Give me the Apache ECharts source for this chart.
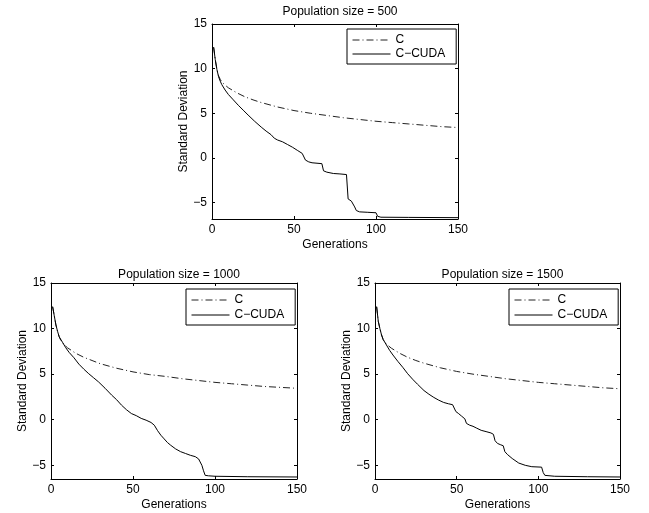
<!DOCTYPE html>
<html>
<head>
<meta charset="utf-8">
<script src="https://cdn.jsdelivr.net/npm/echarts@6/dist/echarts.min.js"></script>
<style>html,body{margin:0;padding:0;background:#fff;}#c{width:649px;height:513px;}</style>
</head>
<body>
<div id="c"></div>
<script>
// ---- data ----
var titles = ['Population size = 500', 'Population size = 1000', 'Population size = 1500'];
var seriesNames = ['C', 'C\u2212CUDA'];
var xTicks = [0, 50, 100, 150];
var yTicks = [-5, 0, 5, 10, 15];
var yMins = [-6.85, -6.5, -6.5];

var genC500 = [1, 2, 3, 4, 5, 6, 8, 10, 15, 20, 25, 30, 40, 50, 60, 70, 80, 90, 100, 110, 120, 130, 140, 150];
var sdC500  = [12.4, 11.0, 9.9, 9.2, 8.8, 8.5, 8.15, 7.85, 7.3, 6.85, 6.5, 6.2, 5.7, 5.3, 5.0, 4.75, 4.5, 4.3, 4.1, 3.95, 3.8, 3.65, 3.5, 3.4];
var genCuda500 = [1, 2, 3, 4, 5, 6, 8, 10, 13, 16, 19, 22, 26, 30, 33, 36, 38, 40, 43, 46, 49, 52, 55, 56, 57, 59, 61, 67, 68, 70, 74, 78, 82, 83, 84, 85, 86, 87, 88, 90, 95, 100, 101, 103, 120, 150];
var sdCuda500  = [12.4, 11.0, 9.9, 9.1, 8.6, 8.2, 7.6, 7.1, 6.5, 5.9, 5.35, 4.8, 4.1, 3.45, 3.0, 2.6, 2.2, 2.0, 1.8, 1.5, 1.2, 0.85, 0.5, 0.35, -0.25, -0.45, -0.55, -0.65, -1.45, -1.6, -1.75, -1.8, -1.87, -4.6, -4.75, -4.85, -5.0, -5.5, -5.9, -6.05, -6.1, -6.15, -6.55, -6.65, -6.67, -6.7];

var genC1000 = [1, 2, 3, 4, 5, 6, 8, 10, 15, 20, 25, 30, 40, 50, 60, 70, 80, 90, 100, 110, 120, 130, 140, 150];
var sdC1000  = [12.4, 11.4, 10.4, 9.7, 9.1, 8.7, 8.25, 7.9, 7.3, 6.85, 6.5, 6.15, 5.65, 5.25, 4.95, 4.75, 4.5, 4.3, 4.1, 3.95, 3.8, 3.65, 3.55, 3.45];
var genCuda1000 = [1, 2, 3, 4, 5, 7, 9, 11, 14, 17, 20, 23, 26, 29, 33, 37, 40, 43, 46, 49, 52, 55, 58, 61, 63, 65, 67, 69, 71, 73, 76, 79, 82, 85, 88, 90, 91, 92, 93, 94, 96, 100, 120, 150];
var sdCuda1000  = [12.4, 11.4, 10.4, 9.7, 9.1, 8.5, 7.9, 7.4, 6.8, 6.1, 5.55, 5.05, 4.6, 4.15, 3.45, 2.7, 2.2, 1.6, 1.1, 0.68, 0.45, 0.15, -0.05, -0.3, -0.6, -1.2, -1.7, -2.1, -2.5, -2.8, -3.2, -3.5, -3.7, -3.9, -4.05, -4.3, -4.5, -5.0, -5.6, -6.1, -6.15, -6.2, -6.25, -6.28];

var genC1500 = [1, 2, 3, 4, 5, 6, 8, 10, 15, 20, 25, 30, 40, 50, 60, 70, 80, 90, 100, 110, 120, 130, 140, 150];
var sdC1500  = [12.4, 10.8, 10.0, 9.3, 8.8, 8.5, 8.15, 7.85, 7.3, 6.85, 6.5, 6.2, 5.7, 5.3, 5.0, 4.75, 4.5, 4.3, 4.1, 3.95, 3.8, 3.65, 3.5, 3.4];
var genCuda1500 = [1, 2, 3, 4, 5, 7, 9, 11, 14, 17, 20, 23, 26, 30, 33, 36, 39, 42, 45, 47.5, 48.5, 49.5, 51, 53, 55, 56, 58, 60, 62, 65, 68, 71, 72.5, 73.5, 75, 77, 78.5, 79.5, 81, 84, 88, 92, 96, 102, 103, 104, 110, 130, 150];
var sdCuda1500  = [12.4, 10.8, 10.0, 9.3, 8.8, 8.2, 7.6, 7.1, 6.4, 5.75, 5.05, 4.45, 3.9, 3.2, 2.8, 2.45, 2.15, 1.9, 1.75, 1.65, 1.5, 0.9, 0.7, 0.4, 0.1, -0.4, -0.6, -0.72, -0.9, -1.16, -1.3, -1.45, -1.6, -2.3, -2.6, -2.75, -2.85, -3.5, -3.8, -4.25, -4.75, -5.0, -5.15, -5.2, -5.8, -6.1, -6.2, -6.25, -6.28];

var cGens = [genC500, genC1000, genC1500];
var cVals = [sdC500, sdC1000, sdC1500];
var cudaGens = [genCuda500, genCuda1000, genCuda1500];
var cudaVals = [sdCuda500, sdCuda1000, sdCuda1500];

// ---- layout ----
var FONT = 'Liberation Sans, Arial, Helvetica, sans-serif';
var DASHDOT = [7, 3, 1, 3];
var grids = [
  {left: 212, top: 24, width: 246, height: 195},
  {left: 51, top: 283, width: 246, height: 196},
  {left: 375, top: 283, width: 245, height: 196}
];
var titleTops = [1, 264, 264];
var legendPos = [
  {left: 347, top: 29, gap: 0},
  {left: 186, top: 289, gap: 1},
  {left: 509, top: 289, gap: 1}
];

function zip(a, b) { return a.map(function (v, i) { return [v, b[i]]; }); }
function minusFmt(v) { return String(v).replace('-', '\u2212'); }

var option = {
  animation: false,
  backgroundColor: '#fff',
  textStyle: {fontFamily: FONT},
  title: [], grid: [], xAxis: [], yAxis: [], legend: [], series: []
};

grids.forEach(function (g, i) {
  option.grid.push({left: g.left, top: g.top, width: g.width, height: g.height, show: false, containLabel: false});
  option.title.push({
    text: titles[i], left: g.left + g.width / 2, top: titleTops[i], textAlign: 'center',
    textStyle: {fontFamily: FONT, fontSize: 12, fontWeight: 'normal', color: '#000'}
  });
  var lineS = {show: true, onZero: false, lineStyle: {color: '#000', width: 1}};
  var tickS = {show: true, inside: true, length: 3, lineStyle: {color: '#000', width: 1}};
  option.xAxis.push({
    type: 'value', gridIndex: i, min: 0, max: 150, interval: 50, position: 'bottom',
    axisLine: lineS, axisTick: tickS, splitLine: {show: false},
    axisLabel: {color: '#000', fontSize: 12, fontFamily: FONT, margin: 5},
    name: 'Generations', nameLocation: 'middle', nameGap: 20,
    nameTextStyle: {color: '#000', fontSize: 12, fontFamily: FONT}
  });
  option.xAxis.push({
    type: 'value', gridIndex: i, min: 0, max: 150, interval: 50, position: 'top',
    axisLine: lineS, axisTick: tickS, splitLine: {show: false}, axisLabel: {show: false}
  });
  option.yAxis.push({
    type: 'value', gridIndex: i, min: yMins[i], max: 15, position: 'left',
    axisLine: lineS,
    axisTick: {show: true, inside: true, length: 3, lineStyle: {color: '#000', width: 1}, customValues: yTicks},
    splitLine: {show: false},
    axisLabel: {color: '#000', fontSize: 12, fontFamily: FONT, margin: 5, customValues: yTicks, formatter: minusFmt},
    name: 'Standard Deviation', nameLocation: 'middle', nameGap: 22,
    nameTextStyle: {color: '#000', fontSize: 12, fontFamily: FONT}
  });
  option.yAxis.push({
    type: 'value', gridIndex: i, min: yMins[i], max: 15, position: 'right',
    axisLine: lineS,
    axisTick: {show: true, inside: true, length: 3, lineStyle: {color: '#000', width: 1}, customValues: yTicks},
    splitLine: {show: false},
    axisLabel: {show: false, customValues: yTicks}
  });
  option.legend.push({
    data: seriesNames, orient: 'vertical', left: legendPos[i].left, top: legendPos[i].top,
    backgroundColor: '#fff', borderColor: '#000', borderWidth: 1, borderRadius: 0,
    padding: [4, 11, 3, 5], itemGap: legendPos[i].gap, itemWidth: 38, itemHeight: 10,
    selectedMode: false,
    itemStyle: {opacity: 0},
    lineStyle: {width: 1},
    textStyle: {color: '#000', fontSize: 12, fontFamily: FONT, lineHeight: 14}
  });
  option.series.push({
    name: seriesNames[0], type: 'line', xAxisIndex: 2 * i, yAxisIndex: 2 * i,
    data: zip(cGens[i], cVals[i]), showSymbol: false, symbol: 'none', smooth: false,
    lineStyle: {color: '#222', width: 1, type: DASHDOT}, itemStyle: {color: '#222'}, z: 2
  });
  option.series.push({
    name: seriesNames[1], type: 'line', xAxisIndex: 2 * i, yAxisIndex: 2 * i,
    data: zip(cudaGens[i], cudaVals[i]), showSymbol: false, symbol: 'none', smooth: false,
    lineStyle: {color: '#000', width: 1, type: 'solid'}, itemStyle: {color: '#000'}, z: 3
  });
});

var chart = echarts.init(document.getElementById('c'), null, {renderer: 'canvas'});
chart.setOption(option);
</script>
</body>
</html>
